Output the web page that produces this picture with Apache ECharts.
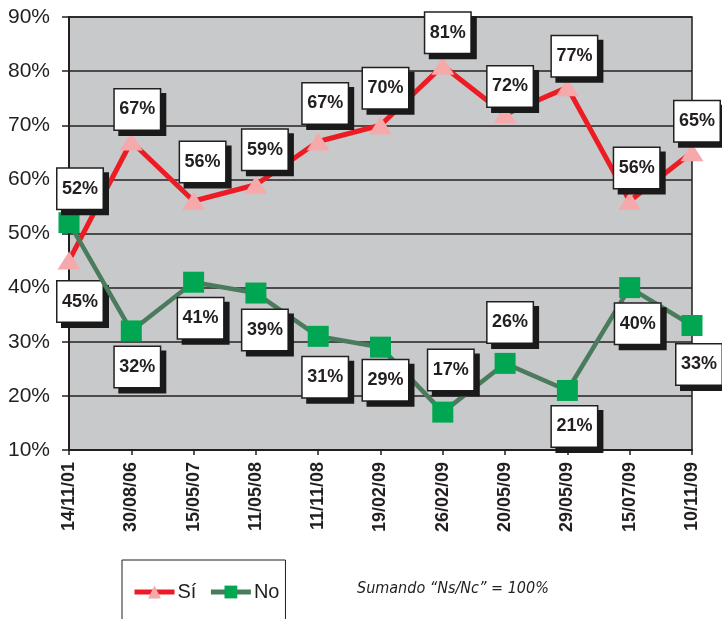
<!DOCTYPE html>
<html>
<head>
<meta charset="utf-8">
<script src="https://cdn.jsdelivr.net/npm/echarts@6/dist/echarts.min.js"></script>
<style>
  html, body { margin: 0; padding: 0; background: #fff; }
  #chart { width: 722px; height: 619px; }
</style>
</head>
<body>
<div id="chart"></div>
<script>
const dates = ["14/11/01", "30/08/06", "15/05/07", "11/05/08", "11/11/08", "19/02/09",
  "26/02/09", "20/05/09", "29/05/09", "15/07/09", "10/11/09"];
const siValues = [45, 67, 56, 59, 67, 70, 81, 72, 77, 56, 65];
const noValues = [52, 32, 41, 39, 31, 29, 17, 26, 21, 40, 33];
// where each value box sits relative to its point, in px
const siLabelDx = [11, 6, 9, 9, 7, 5, 5, 5, 7, 7, 5];
const siLabelDy = [41, -32, -39, -35, -38, -37, -33, -28, -31, -33, -31];
const noLabelDx = [11, 6, 7, 9, 7, 5, 8, 5, 7, 8, 7];
const noLabelDy = [-34, 36, 36, 37, 41, 33, -42, -41, 36, 36, 39];

const chart = echarts.init(document.getElementById("chart"));

const boxLabel = {
  show: true,
  position: "inside",
  formatter: "{c}%",
  color: "#231f20",
  fontFamily: "Liberation Sans, Arial, sans-serif",
  fontWeight: "bold",
  fontSize: 18,
  backgroundColor: "#fff",
  borderColor: "#231f20",
  borderWidth: 1.5,
  width: 45,
  height: 40,
  lineHeight: 40,
  align: "center",
  padding: 0,
  shadowColor: "#1a1a1a",
  shadowBlur: 0,
  shadowOffsetX: 5,
  shadowOffsetY: 5,
};

const withLabels = (values, dx, dy) =>
  values.map((v, i) => ({
    value: v,
    label: { offset: [dx[i], dy[i]] },
  }));

chart.setOption({
  animation: false,
  grid: {
    left: 69, right: 30, top: 17, bottom: 169,
    show: true,
    backgroundColor: "#c8c9cb",
    borderColor: "#231f20",
    borderWidth: 1.5,
  },
  legend: {
    left: 122,
    top: 560,
    orient: "horizontal",
    padding: [22, 6, 40, 10],
    borderColor: "#231f20",
    borderWidth: 1,
    itemWidth: 40,
    itemHeight: 16,
    itemGap: 12,
    lineStyle: { width: 5 },
    textStyle: { fontFamily: "Liberation Sans, Arial, sans-serif", fontSize: 20, color: "#231f20", padding: [0, 0, 0, -2] },
    data: ["Sí", "No"],
  },
  xAxis: {
    type: "category",
    data: dates,
    boundaryGap: false,
    axisLine: { lineStyle: { color: "#231f20", width: 2 } },
    axisTick: { show: true, length: 5, lineStyle: { color: "#231f20", width: 1.5 } },
    axisLabel: {
      rotate: 90,
      interval: 0,
      margin: 12,
      color: "#231f20",
      fontFamily: "Liberation Sans, Arial, sans-serif",
      fontWeight: "bold",
      fontSize: 18,
    },
    splitLine: { show: false },
  },
  yAxis: {
    type: "value",
    min: 10,
    max: 90,
    interval: 10,
    axisLine: { show: true, lineStyle: { color: "#231f20", width: 2 } },
    axisTick: { show: true, length: 7, lineStyle: { color: "#231f20", width: 1.5 } },
    axisLabel: {
      formatter: "{value}%",
      margin: 19,
      color: "#231f20",
      fontFamily: "Liberation Sans, Arial, sans-serif",
      fontSize: 21,
    },
    splitLine: { lineStyle: { color: "#231f20", width: 1.5 } },
  },
  series: [
    {
      name: "No",
      type: "line",
      data: withLabels(noValues, noLabelDx, noLabelDy),
      symbol: "rect",
      symbolSize: 21,
      lineStyle: { color: "#4a7b5c", width: 4.5 },
      itemStyle: { color: "#00a651" },
      label: boxLabel,
      z: 3,
    },
    {
      name: "Sí",
      type: "line",
      data: withLabels(siValues, siLabelDx, siLabelDy),
      symbol: "triangle",
      symbolSize: [23, 18],
      lineStyle: { color: "#ed1c24", width: 5 },
      itemStyle: { color: "#f5a9ab" },
      label: boxLabel,
      z: 2,
    },
  ],
  graphic: [
    {
      type: "text",
      left: 357,
      top: 581,
      style: {
        text: "Sumando “Ns/Nc” = 100%",
        font: 'italic 16px "DejaVu Sans Condensed", sans-serif',
        fill: "#231f20",
      },
    },
  ],
});
</script>
</body>
</html>
